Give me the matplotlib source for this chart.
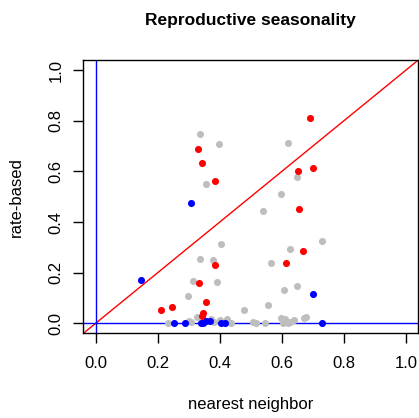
import matplotlib
matplotlib.use("Agg")
import matplotlib.pyplot as plt

plt.rcParams['font.family'] = ['Liberation Sans', 'DejaVu Sans']

# nearest-neighbour vs rate-based seasonality estimates
gray_x = [0.336, 0.397, 0.620, 0.356, 0.650, 0.597, 0.538, 0.403, 0.729, 0.626,
          0.336, 0.377, 0.565, 0.313, 0.391, 0.608, 0.649, 0.296, 0.477, 0.557,
          0.679, 0.672, 0.640, 0.597, 0.611, 0.232, 0.300, 0.308, 0.325, 0.372,
          0.382, 0.402, 0.422, 0.435, 0.506, 0.518, 0.547, 0.603, 0.619, 0.628]
gray_y = [0.749, 0.708, 0.711, 0.549, 0.578, 0.509, 0.443, 0.314, 0.326, 0.292,
          0.254, 0.250, 0.239, 0.166, 0.164, 0.131, 0.146, 0.107, 0.051, 0.072,
          0.026, 0.020, 0.013, 0.022, 0.015, 0.000, 0.007, 0.003, 0.024, 0.016,
          0.003, 0.011, 0.018, 0.000, 0.003, 0.000, 0.000, 0.000, 0.000, 0.003]

red_x = [0.691, 0.331, 0.343, 0.383, 0.653, 0.700, 0.657, 0.667, 0.614, 0.383,
         0.332, 0.356, 0.245, 0.209, 0.347, 0.342]
red_y = [0.812, 0.689, 0.634, 0.562, 0.601, 0.612, 0.451, 0.285, 0.237, 0.229,
         0.160, 0.083, 0.064, 0.052, 0.039, 0.030]

blue_x = [0.307, 0.146, 0.701, 0.252, 0.289, 0.338, 0.346, 0.356, 0.370, 0.405,
          0.416, 0.729]
blue_y = [0.475, 0.170, 0.117, 0.000, 0.000, 0.000, 0.000, 0.010, 0.008, 0.000,
          0.000, 0.000]

ticks = [0.0, 0.2, 0.4, 0.6, 0.8, 1.0]
tick_labels = ["0.0", "0.2", "0.4", "0.6", "0.8", "1.0"]

fig = plt.figure(figsize=(4.19, 4.18), dpi=100)
ax = fig.add_axes([0.199, 0.2026, 0.799, 0.6535])

ax.scatter(gray_x, gray_y, s=26, color="#bebebe", linewidths=0, zorder=2)
ax.scatter(red_x, red_y, s=26, color="red", linewidths=0, zorder=3)
ax.scatter(blue_x, blue_y, s=26, color="blue", linewidths=0, zorder=4)

# identity line and zero reference lines
ax.axline((0, 0), slope=1, color="red", lw=1, zorder=1)
ax.axvline(0, color="blue", lw=1, zorder=1)
ax.axhline(0, color="blue", lw=1, zorder=1)

ax.set_xlim(-0.04, 1.04)
ax.set_ylim(-0.04, 1.04)
ax.set_xticks(ticks)
ax.set_xticklabels(tick_labels)
ax.set_yticks(ticks)
ax.set_yticklabels(tick_labels, rotation=90, va="center")
ax.tick_params(direction="out", length=7, width=1, labelsize=12)
ax.tick_params(axis="x", pad=9.2)
ax.tick_params(axis="y", pad=7.3)

for sp in ax.spines.values():
    sp.set_linewidth(1)

ax.set_xlabel("nearest neighbor", fontsize=12, labelpad=19)
ax.set_ylabel("rate-based", fontsize=12, labelpad=18)
ax.set_title("Reproductive seasonality", fontsize=12.5, fontweight="bold", pad=25)

fig.savefig("out.png", dpi=100)
